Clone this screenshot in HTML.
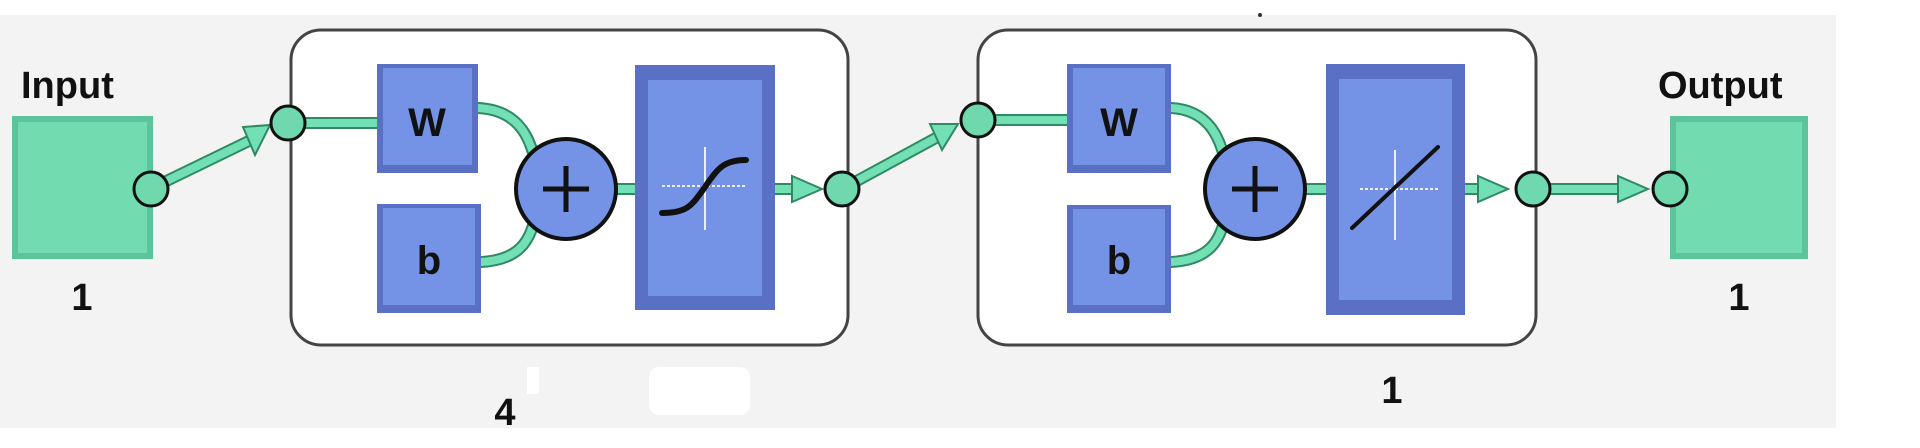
<!DOCTYPE html>
<html><head><meta charset="utf-8"><style>
html,body{margin:0;padding:0;background:#fff}
svg{display:block}
text{font-family:"Liberation Sans",sans-serif;font-weight:bold;fill:#111}
</style></head><body>
<svg width="1920" height="448" viewBox="0 0 1920 448" xmlns="http://www.w3.org/2000/svg">
<rect x="0" y="15" width="1836" height="413" fill="#f3f3f3"/>
<rect x="527" y="367" width="12" height="27" fill="#fff"/>
<rect x="649" y="367" width="101" height="48" rx="10" fill="#fff"/>
<circle cx="1260" cy="15" r="2" fill="#333"/>

<rect x="291" y="30" width="557" height="315" rx="30" fill="#fff" stroke="#444" stroke-width="3"/>
<rect x="978" y="30" width="558" height="315" rx="30" fill="#fff" stroke="#444" stroke-width="3"/>

<g fill="none" stroke="#2f8a62" stroke-width="12" stroke-linecap="round">
<path d="M150 189 L255 138"/>
<path d="M288 123 H378"/>
<path d="M478 108 C520 110 530 140 535 160"/>
<path d="M481 262 C520 260 530 240 535 218"/>
<path d="M616 189 H634"/>
<path d="M775 189 H795"/>
<path d="M842 189 L945 133"/>
<path d="M978 120 H1067"/>
<path d="M1171 108 C1210 110 1220 140 1225 160"/>
<path d="M1171 262 C1210 260 1220 240 1225 218"/>
<path d="M1305 189 H1326"/>
<path d="M1465 189 H1480"/>
<path d="M1533 189 H1625"/>
</g>
<g fill="none" stroke="#72e0b4" stroke-width="8" stroke-linecap="round">
<path d="M150 189 L255 138"/>
<path d="M288 123 H378"/>
<path d="M478 108 C520 110 530 140 535 160"/>
<path d="M481 262 C520 260 530 240 535 218"/>
<path d="M616 189 H634"/>
<path d="M775 189 H795"/>
<path d="M842 189 L945 133"/>
<path d="M978 120 H1067"/>
<path d="M1171 108 C1210 110 1220 140 1225 160"/>
<path d="M1171 262 C1210 260 1220 240 1225 218"/>
<path d="M1305 189 H1326"/>
<path d="M1465 189 H1480"/>
<path d="M1533 189 H1625"/>
</g>
<g fill="#72e0b4" stroke="#2f8a62" stroke-width="2">
<polygon points="270,125 243,127 255,155"/>
<polygon points="792,176 792,202 822,189"/>
<polygon points="958,124 930,124 942,150"/>
<polygon points="1478,176 1478,202 1508,189"/>
<polygon points="1618,176 1618,202 1648,189"/>
</g>

<rect x="12" y="116" width="141" height="143" fill="#5cc49a"/>
<rect x="18" y="122" width="129" height="131" fill="#72dcb0"/>
<rect x="1670" y="116" width="138" height="143" fill="#5cc49a"/>
<rect x="1676" y="122" width="126" height="131" fill="#72dcb0"/>

<g>
<rect x="377" y="64" width="101" height="109" fill="#5a70c4"/><rect x="383" y="68" width="89" height="97" fill="#7593e6"/>
<rect x="377" y="204" width="104" height="109" fill="#5a70c4"/><rect x="383" y="208" width="92" height="97" fill="#7593e6"/>
<rect x="635" y="65" width="140" height="245" fill="#5a70c4"/><rect x="648" y="80" width="114" height="216" fill="#7593e6"/>
<rect x="1067" y="64" width="104" height="109" fill="#5a70c4"/><rect x="1073" y="68" width="92" height="97" fill="#7593e6"/>
<rect x="1067" y="205" width="104" height="108" fill="#5a70c4"/><rect x="1073" y="209" width="92" height="96" fill="#7593e6"/>
<rect x="1326" y="64" width="139" height="251" fill="#5a70c4"/><rect x="1339" y="79" width="113" height="221" fill="#7593e6"/>
</g>
<text x="427" y="136" font-size="40" text-anchor="middle">W</text>
<text x="429" y="274" font-size="40" text-anchor="middle">b</text>
<text x="1119" y="136" font-size="40" text-anchor="middle">W</text>
<text x="1119" y="274" font-size="40" text-anchor="middle">b</text>

<g stroke="#eef" stroke-width="2" fill="none">
<path d="M705 147 V230"/><path d="M662 186 H746" stroke-dasharray="3 2"/>
<path d="M1395 150 V240"/><path d="M1360 189 H1440" stroke-dasharray="3 2"/>
</g>
<path d="M662 213 C688 213 692 205 705 187 C718 168 724 160 746 160" stroke="#111" stroke-width="6" fill="none" stroke-linecap="round"/>
<path d="M1352 228 L1438 147" stroke="#111" stroke-width="4" fill="none" stroke-linecap="round"/>

<circle cx="566" cy="189" r="50" fill="#7593e6" stroke="#111" stroke-width="4"/>
<path d="M543 189 H589 M566 166 V212" stroke="#111" stroke-width="5"/>
<circle cx="1255" cy="189" r="50" fill="#7593e6" stroke="#111" stroke-width="4"/>
<path d="M1232 189 H1278 M1255 166 V212" stroke="#111" stroke-width="5"/>

<g fill="#6fd8ac" stroke="#111" stroke-width="3">
<ellipse cx="151" cy="189" rx="17" ry="17"/>
<ellipse cx="288" cy="123" rx="17" ry="17"/>
<ellipse cx="842" cy="189" rx="17" ry="17"/>
<ellipse cx="978" cy="120" rx="17" ry="17"/>
<ellipse cx="1533" cy="189" rx="17" ry="17"/>
<ellipse cx="1670" cy="189" rx="17" ry="17"/>
</g>

<text x="21" y="98" font-size="38">Input</text>
<text x="1658" y="98" font-size="38">Output</text>
<text x="82" y="310" font-size="38" text-anchor="middle">1</text>
<text x="1739" y="310" font-size="38" text-anchor="middle">1</text>
<text x="505" y="425" font-size="38" text-anchor="middle">4</text>
<text x="1392" y="403" font-size="38" text-anchor="middle">1</text>
</svg>
</body></html>
